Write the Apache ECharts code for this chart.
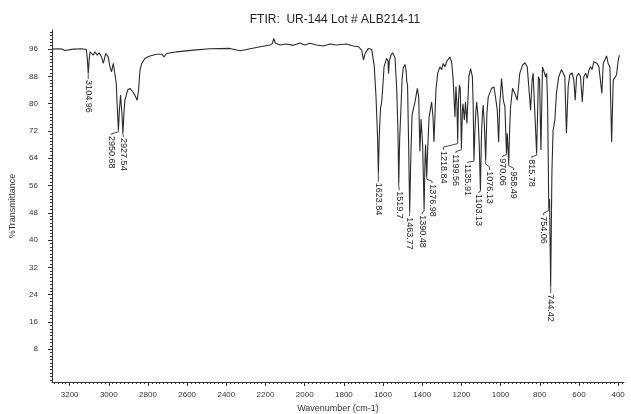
<!DOCTYPE html>
<html><head><meta charset="utf-8">
<script src="https://cdn.jsdelivr.net/npm/echarts@6/dist/echarts.min.js"></script>
<style>html,body{margin:0;padding:0;background:#fff}#c{width:631px;height:414px}</style>
</head><body><div id="c"></div>
<script>
// Spectrum (wavenumber cm-1, %T)
const wavenumbers = [3290,3260,3240,3225,3215,3180,3140,3115,3110,3105,3100,3096,3088,3079,3071,3059,3049,3037,3028,3016,3003,2994,2986,2977,2969,2962,2956,2951,2946,2940,2933,2928,2923,2918,2904,2892,2878,2867,2855,2848,2841,2832,2815,2790,2756,2730,2718,2705,2654,2569,2484,2382,2331,2297,2228,2177,2165,2158,2150,2140,2126,2092,2058,2024,1999,1973,1939,1905,1871,1837,1786,1752,1726,1709,1700,1692,1675,1658,1645,1636,1628,1624,1619,1613,1607,1600,1595,1582,1575,1572,1568,1560,1551,1539,1530,1524,1520,1515,1509,1503,1497,1488,1482,1479,1475,1470,1464,1460,1457,1452,1445,1437,1425,1418,1412,1406,1398,1390.5,1386,1383,1377,1372,1365,1352,1345,1340,1334,1330,1321,1310,1301,1293,1284,1276,1267,1259,1250,1242,1233,1228,1223,1219,1215,1210,1206,1200,1195,1192,1185,1179,1172,1166,1162,1153,1144,1140,1136,1131,1126,1122,1115,1109,1103,1098,1093,1089,1083,1076,1070,1063,1046,1034,1026,1017,1010,1004,995,986,978,970,966,958.5,954,949,939,932,924,915,902,888,876,864,856,847,839,834,825,816,810,807,801,794,789,786,779,770,765,760,754,750,744.4,738,732,723,715,703,689,681,672,664,655,647,635,626,619,612,602,592,583,575,565,558,549,541,533,524,515,507,498,490,483,476,468,459,451,442,433,425,417,408,400,394];
const transmittance = [96.0,96.1,96.0,95.6,96.0,96.0,96.1,95.9,93.5,88.9,93.0,95.2,95.5,94.2,95.2,94.2,94.9,93.7,91.8,94.7,93.7,90.8,89.3,91.8,91.3,86,78,72.2,78,82.5,77.1,71.3,77,81,84,84.5,83.5,82.5,81,84,89.8,91.8,93.3,94,94.5,94.5,93.7,94.7,95.2,95.7,96.1,96.2,95.5,95.9,96.7,97.2,97.6,99.1,97.8,97.5,97.2,97.5,97.1,97.8,97.2,97.7,97.2,96.9,97.5,97.2,97.5,96.9,96.7,95.7,92.8,94.7,96.2,95.9,91,82,70,59.5,71,78.5,80.5,86,90.8,93.3,92.5,88.8,92.5,94.2,94.9,93.5,84,72,56.6,70,78,87,90.5,91.5,89.5,86.5,85.5,70,48.3,60,67,76.5,78.5,80.5,84.5,82,66,75.5,68,49,63,68,58.5,67,76,80.5,76,68.8,78,84,88.9,90.8,90,91.8,90.8,92.3,91.8,93.7,92.3,86.9,76.1,85,80,69.3,81,85.4,84.5,67,78,80,75.2,80.5,74.2,82,87.9,90.3,87.9,80,63.4,72,78,80.5,76,68,54.6,70,77,79.6,74,63.4,77,82,84.5,84.9,82,78.1,68.8,80.1,87.4,81,79.1,65.5,71.3,62.5,72,79.1,84.5,85,82.5,81,88.9,91.3,92,90.8,85,78.1,86.9,88.9,77.1,65.4,80,87.9,87,66.4,82,90.8,91.3,87.9,88.9,80,49.4,52,26.3,60,72.2,75.2,83,87.9,90,90.3,87.9,71.3,85,88.4,89,86.9,81,87.9,88.9,87.9,80.5,87.9,88.9,87.4,89.8,90.8,90,92.3,92.8,91.8,90.8,91.3,83,91.8,92.8,94,91.8,90.8,68.8,86.9,86.4,88.5,92.5,94.2];

// Peak annotations
const peakLabels = ['3104.96','2950.68','2927.54','1623.84','1519.7','1463.77','1390.48','1376.98','1218.84','1199.56','1135.91','1103.13','1076.13','970.06','958.49','815.78','754.06','744.42'];
const peakWn = [3105,2951,2928,1624,1520,1464,1390.5,1377,1219,1200,1136,1103,1076,970,958.5,816,754,744.4];
const peakT = [88.9,72.2,71.3,59.5,56.6,48.3,49,58.5,69.3,67,63.4,54.6,63.4,65.5,62.5,65.4,49.4,26.3];
const labelWn = [3105,2985,2926,1624,1518,1465,1400,1350,1292,1228,1168,1112,1057,989,934,840,780,744.4];
const labelT = [87.2,70.8,70.2,57.1,54.6,47,47.6,56.7,66.4,65.5,62.6,53.8,60.5,64.3,60.5,64,47.3,24.4];

// Axis ticks
const xTickValues = [3200,3000,2800,2600,2400,2200,2000,1800,1600,1400,1200,1000,800,600,400];
const yTickValues = [8,16,24,32,40,48,56,64,72,80,88,96];

const xMinor = []; for (let v = 380; v <= 3280; v += 20) xMinor.push(v);
const yMinor = []; for (let v = -1; v <= 101; v += 1) yMinor.push(v);

const FONT = 'Liberation Sans, Arial, sans-serif';
const INK = '#333';

const spectrum = wavenumbers.map((w, i) => [w, transmittance[i]]);
const peaks = peakLabels.map((t, i) => [peakWn[i], peakT[i], labelWn[i], labelT[i], i]);

const X_MIN = 370, X_MAX = 3290, Y_MIN = -1.6, Y_MAX = 101.6;
const plain = v => String(v);

const chart = echarts.init(document.getElementById('c'), null, {renderer: 'canvas'});
chart.setOption({
  animation: false,
  backgroundColor: '#fff',
  title: {
    text: 'FTIR:  UR-144 Lot # ALB214-11',
    left: 330, top: 9, textAlign: 'center',
    textStyle: {fontFamily: FONT, fontSize: 12, fontWeight: 'normal', color: '#222'}
  },
  grid: {left: 52, right: 7, top: 30, bottom: 32, containLabel: false, outerBoundsMode: 'none'},
  xAxis: [{
    type: 'value', inverse: true, min: X_MIN, max: X_MAX, position: 'bottom',
    name: 'Wavenumber (cm-1)', nameLocation: 'middle', nameGap: 20,
    nameTextStyle: {fontFamily: FONT, fontSize: 9, color: INK},
    axisLine: {onZero: false, lineStyle: {color: INK, width: 1}},
    axisTick: {customValues: xTickValues, length: 4, lineStyle: {color: INK}},
    axisLabel: {customValues: xTickValues, formatter: plain, margin: 9, fontFamily: FONT, fontSize: 8, color: INK},
    splitLine: {show: false}
  }, {
    type: 'value', inverse: true, min: X_MIN, max: X_MAX, position: 'bottom',
    axisLine: {show: false, onZero: false},
    axisTick: {customValues: xMinor, length: 2, lineStyle: {color: INK}},
    axisLabel: {show: false}, splitLine: {show: false}
  }],
  yAxis: [{
    type: 'value', min: Y_MIN, max: Y_MAX, position: 'left',
    name: '%Transmittance', nameLocation: 'middle', nameGap: 35, nameRotate: 90,
    nameTextStyle: {fontFamily: FONT, fontSize: 9, color: INK},
    axisLine: {show: true, onZero: false, lineStyle: {color: INK, width: 1}},
    axisTick: {show: true, customValues: yTickValues, length: 4, lineStyle: {color: INK}},
    axisLabel: {customValues: yTickValues, formatter: plain, margin: 14, fontFamily: FONT, fontSize: 8, color: INK},
    splitLine: {show: false}
  }, {
    type: 'value', min: Y_MIN, max: Y_MAX, position: 'left',
    axisLine: {show: false, onZero: false},
    axisTick: {show: true, customValues: yMinor, length: 2, lineStyle: {color: INK}},
    axisLabel: {show: false}, splitLine: {show: false}
  }],
  series: [{
    type: 'line', xAxisIndex: 0, yAxisIndex: 0, data: spectrum,
    showSymbol: false, symbol: 'none', smooth: false,
    lineStyle: {color: '#2b2b2b', width: 1.1}
  }, {
    type: 'custom', xAxisIndex: 0, yAxisIndex: 0, data: peaks, clip: false,
    renderItem: function (params, api) {
      const p0 = api.coord([api.value(0), api.value(1)]);
      const p3 = api.coord([api.value(2), api.value(3)]);
      const idx = api.value(4);
      const dy = p3[1] - p0[1];
      const pts = [p0, [p0[0], p0[1] + dy * 0.35], [p3[0], p0[1] + dy * 0.7], p3];
      return {
        type: 'group',
        children: [{
          type: 'polyline', shape: {points: pts},
          style: {stroke: '#333', lineWidth: 0.9, fill: null}
        }, {
          type: 'text', x: p3[0], y: p3[1] + 1, rotation: -Math.PI / 2,
          style: {text: peakLabels[idx], fill: '#222', fontFamily: FONT, fontSize: 9,
                  align: 'left', verticalAlign: 'middle'}
        }]
      };
    }
  }]
});
</script>
</body></html>
